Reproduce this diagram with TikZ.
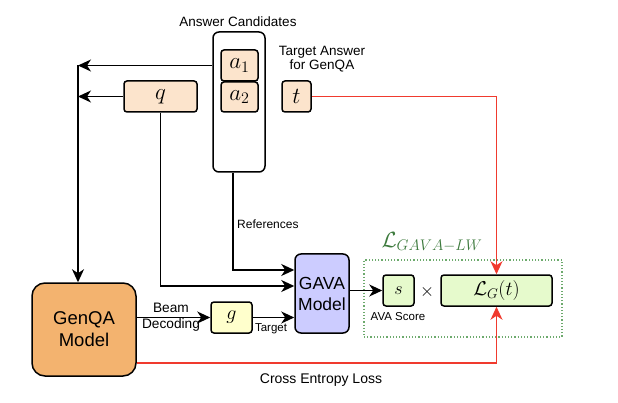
\RequirePackage{fix-cm}
\documentclass[tikz,border=0pt]{standalone}
\usepackage{fontspec}
\setmainfont{Liberation Sans}
\usetikzlibrary{arrows.meta,calc}
\definecolor{peach}{HTML}{FCE4CC}
\definecolor{genqa}{HTML}{F3B36F}
\definecolor{gava}{HTML}{CCCCFF}
\definecolor{yel}{HTML}{FFFFCC}
\definecolor{grn}{HTML}{E6FACC}
\definecolor{dotgrn}{HTML}{6DAA6D}
\definecolor{lossgrn}{HTML}{3D7A3D}
\definecolor{redl}{HTML}{F03A2E}
\tikzset{
  box/.style={draw=black, line width=1.5pt, rounded corners=3pt, inner sep=0pt},
  arr/.style={line width=1.5pt, -{Stealth[length=13pt,width=12pt,inset=4pt]}},
  redarr/.style={draw=redl, line width=1.4pt, -{Stealth[length=13pt,width=12pt,inset=4pt]}},
  lbl/.style={inner sep=0pt, align=center},
  mathf/.style={font=\fontsize{23}{25}\selectfont},
}
\begin{document}
\begin{tikzpicture}[x=1pt,y=-1pt]
\useasboundingbox (0,0) rectangle (618,403);
% answer candidates
\node[box, rounded corners=6pt, minimum width=52, minimum height=140] (cand) at (239,102) {};
\node[lbl, font=\fontsize{13.5}{14}\selectfont] (candlbl) at (238,22) {Answer Candidates};
\node[box, fill=peach, minimum width=37, minimum height=31, mathf] (a1) at (239.5,65.5) {$a_1$};
\node[box, fill=peach, minimum width=37, minimum height=30, mathf] (a2) at (239.5,97) {$a_2$};
\node[box, fill=peach, minimum width=73, minimum height=31, mathf] (q) at (160.5,96.5) {$q$};
\node[box, fill=peach, minimum width=29, minimum height=31, mathf] (t) at (296.5,96.5) {$t$};
\node[lbl, font=\fontsize{13.5}{11}\selectfont] (tlbl) at (322,59) {Target Answer\\for GenQA};
% models
\node[box, fill=genqa, rounded corners=13pt, minimum width=104, minimum height=93, align=center, font=\fontsize{18.5}{22}\selectfont] (genqa) at (84,329.5) {GenQA\\Model};
\node[box, fill=gava, rounded corners=6pt, minimum width=54, minimum height=79, align=center, font=\fontsize{17.5}{21}\selectfont] (gava) at (322,293.5) {GAVA\\Model};
\node[box, fill=yel, minimum width=41, minimum height=31, font=\fontsize{20}{22}\selectfont] (g) at (231.5,317.5) {$g$};
% loss area
\node[draw=dotgrn, dotted, line width=1.2pt, minimum width=198, minimum height=77, inner sep=0pt] (lossbox) at (463,298.5) {};
\node[lbl, text=lossgrn, font=\fontsize{22}{24}\selectfont] (losslbl) at (432,242) {$\mathcal{L}_{GAVA-LW}$};
\node[box, fill=grn, minimum width=31, minimum height=31, font=\fontsize{18}{20}\selectfont] (s) at (398.5,290.5) {$s$};
\node[box, fill=grn, minimum width=111, minimum height=31, font=\fontsize{20}{22}\selectfont] (lg) at (496.5,290.5) {$\mathcal{L}_G(t)$};
\node[lbl, font=\fontsize{18}{20}\selectfont] (times) at (427,292) {$\times$};
\node[lbl, font=\fontsize{11.5}{12}\selectfont] (avalbl) at (398,317) {AVA Score};
% labels
\node[lbl, anchor=west, font=\fontsize{12}{13}\selectfont] (reflbl) at (237,224) {References};
\node[lbl, font=\fontsize{13.7}{16}\selectfont] (beamlbl) at (171,317) {Beam\\Decoding};
\node[lbl, font=\fontsize{11.5}{12}\selectfont] (targlbl) at (271,329) {Target};
\node[lbl, font=\fontsize{14}{15}\selectfont] (celbl) at (321,380) {Cross Entropy Loss};
% connectors
\coordinate (L1) at (78,65.5);
\coordinate (L2) at (78,96.5);
\draw[arr] (cand.west |- a1.center) -- (L1);
\draw[arr] (q.west) -- (L2);
\draw[arr] (L1) -- (L1 |- genqa.north);
\draw[arr] (q.south) |- (gava.west |- 0,286);
\draw[arr] ([xshift=-6pt]cand.south) |- (gava.west |- 0,270);
\draw[arr] (g.east) -- (gava.west |- g.east);
\draw[arr] (genqa.east |- g.west) -- (g.west);
\draw[arr] (gava.east |- s.west) -- (s.west);
\draw[redarr] (t.east) -| (lg.north);
\draw[redarr] (genqa.east |- 0,363) -| (lg.south);
\end{tikzpicture}
\end{document}
